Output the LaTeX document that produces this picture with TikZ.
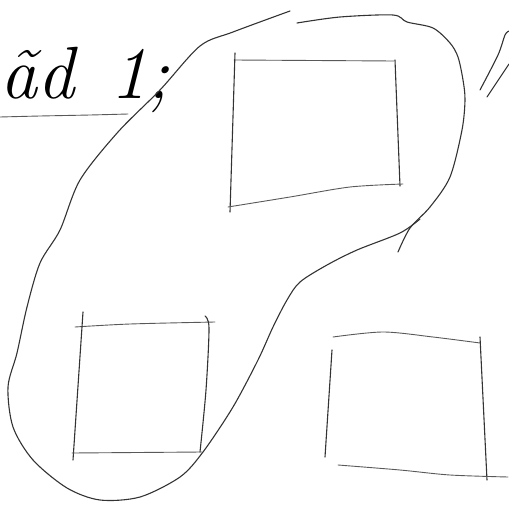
\documentclass[tikz,border=0pt]{standalone}
\usetikzlibrary{positioning}
\begin{document}
\begin{tikzpicture}[
  x=1pt, y=-1pt,
  pen/.style={black!80, line width=1.1pt, line cap=round, line join=round},
  thin pen/.style={black!65, line width=0.9pt, line cap=round},
  hand/.style={font=\fontsize{74}{74}\selectfont\itshape, inner sep=0pt}
]
\useasboundingbox (0,0) rectangle (509,506);
% heading
\node[hand, anchor=base west] (title) at (0,98) {\~ad\hspace{36pt}1;};
\draw[thin pen] plot[smooth] coordinates {(0,117) (40,116) (90,115) (128,114)};
% the loop
\draw[pen] plot[smooth] coordinates {(420,219) (400,233) (357,250) (327,265) (300,282) (287,300) (273,327) (258,360) (233,407) (203,452) (180,477) (140,497) (100,500) (67,488) (33,460) (13,427) (8,387) (17,353) (27,307) (40,263) (60,230) (80,180) (118,132) (160,90) (200,46) (233,32) (290,11)};
\draw[pen] plot[smooth] coordinates {(297,23) (340,17) (393,15) (407,22) (433,28) (450,43) (458,57) (463,80) (465,100) (462,130) (450,177) (430,207) (410,228) (398,252)};
% top box
\draw[thin pen] (234,60) -- (394,61);
\draw[pen] (235,53) -- (230,212);
\draw[pen] (395,60) -- (400,186);
\draw[thin pen] plot[smooth] coordinates {(228,207) (290,197) (350,187) (403,184)};
% left box
\draw[thin pen] plot[smooth] coordinates {(75,327) (130,324) (215,322)};
\draw[pen] (83,312) -- (73,460);
\draw[pen] plot[smooth] coordinates {(205,316) (209,328) (206,390) (200,452)};
\draw[thin pen] (72,453) -- (202,452);
% right box
\draw[thin pen] plot[smooth] coordinates {(333,337) (383,332) (433,337) (480,343)};
\draw[pen] (332,350) -- (325,457);
\draw[pen] (480,337) -- (487,480);
\draw[thin pen] plot[smooth] coordinates {(338,465) (400,470) (450,475) (508,477)};
% mark at the right edge
\draw[pen] plot[smooth] coordinates {(480,90) (498,55) (505,35) (509,31)};
\draw[pen] (487,97) -- (509,64);
\end{tikzpicture}
\end{document}
